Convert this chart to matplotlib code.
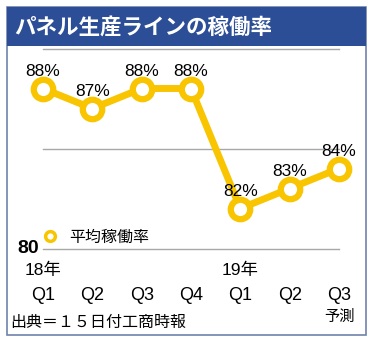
import matplotlib.pyplot as plt
from matplotlib.patches import Rectangle
from matplotlib.lines import Line2D

plt.rcParams['font.family'] = ['Liberation Sans', 'Noto Sans CJK JP']

quarters = ["Q1", "Q2", "Q3", "Q4", "Q1", "Q2", "Q3"]
years = {0: "18年", 4: "19年"}
rates = [88, 87, 88, 88, 82, 83, 84]
title = "パネル生産ラインの稼働率"
series_name = "平均稼働率"
source = "出典＝１５日付工商時報"

yellow = "#f8c500"
navy = "#2c4e96"
cjk = ['Noto Sans CJK JP', 'DejaVu Sans']

W, H = 375, 342
fig = plt.figure(figsize=(W / 100, H / 100), dpi=100)

# outer frame and title band, kept behind the axes
fig.patches.append(Rectangle((7 / W, 1 - 335 / H), 359 / W, 328 / H, transform=fig.transFigure,
                             facecolor="white", edgecolor="#7083ab", linewidth=1.2, zorder=-10))
fig.patches.append(Rectangle((7 / W, 1 - 45.5 / H), 359 / W, 38.5 / H, transform=fig.transFigure,
                             facecolor=navy, edgecolor="none", zorder=-9))
fig.text(14 / W, 1 - 27 / H, title, color="white", fontsize=15.5, fontweight="bold",
         va="center", ha="left", family=cjk)

ax = fig.add_axes([43 / W, 1 - 248.5 / H, 296 / W, 200 / H])
ax.set_xlim(0, len(rates) - 1)
ax.set_ylim(80, 90)
ax.axis("off")
for gy in (80, 85, 90):
    ax.axhline(gy, color="#a8a8a8", linewidth=1, zorder=1, clip_on=False)

x = list(range(len(rates)))
ax.plot(x, rates, color=yellow, linewidth=5, marker="o", markersize=14,
        markerfacecolor="white", markeredgecolor=yellow, markeredgewidth=4.5,
        clip_on=False, zorder=3)

for xi, r in zip(x, rates):
    ax.annotate(f"{r}%", (xi, r), xytext=(0, 7), textcoords="offset points",
                ha="center", va="bottom", fontsize=12.5, zorder=4)

# axis labels below the plot area
trans = ax.get_xaxis_transform()
ax.text(-0.08, 80, "80", fontsize=14, fontweight="bold", ha="right", va="center")
for xi, q in zip(x, quarters):
    ax.text(xi, -0.235, q, transform=trans, ha="center", va="center", fontsize=13)
for xi, yl in years.items():
    ax.text(xi, -0.11, yl, transform=trans, ha="center", va="center", fontsize=12.5)
ax.text(x[-1], -0.34, "予測", transform=trans, ha="center", va="center", fontsize=11, family=cjk)

# legend
leg_handle = Line2D([], [], color=yellow, linewidth=0, marker="o", markersize=7,
                    markerfacecolor="white", markeredgecolor=yellow, markeredgewidth=2.5)
ax.legend([leg_handle], [series_name], loc="lower left", bbox_to_anchor=(-0.04, -0.035),
          frameon=False, fontsize=11.5, handlelength=1.2, handletextpad=0.6, borderaxespad=0.2,
          prop={"family": cjk, "size": 11.5})

fig.text(10 / W, 1 - 322 / H, source, fontsize=11.5, ha="left", va="center", family=cjk)

fig.savefig("out.png", dpi=100)
